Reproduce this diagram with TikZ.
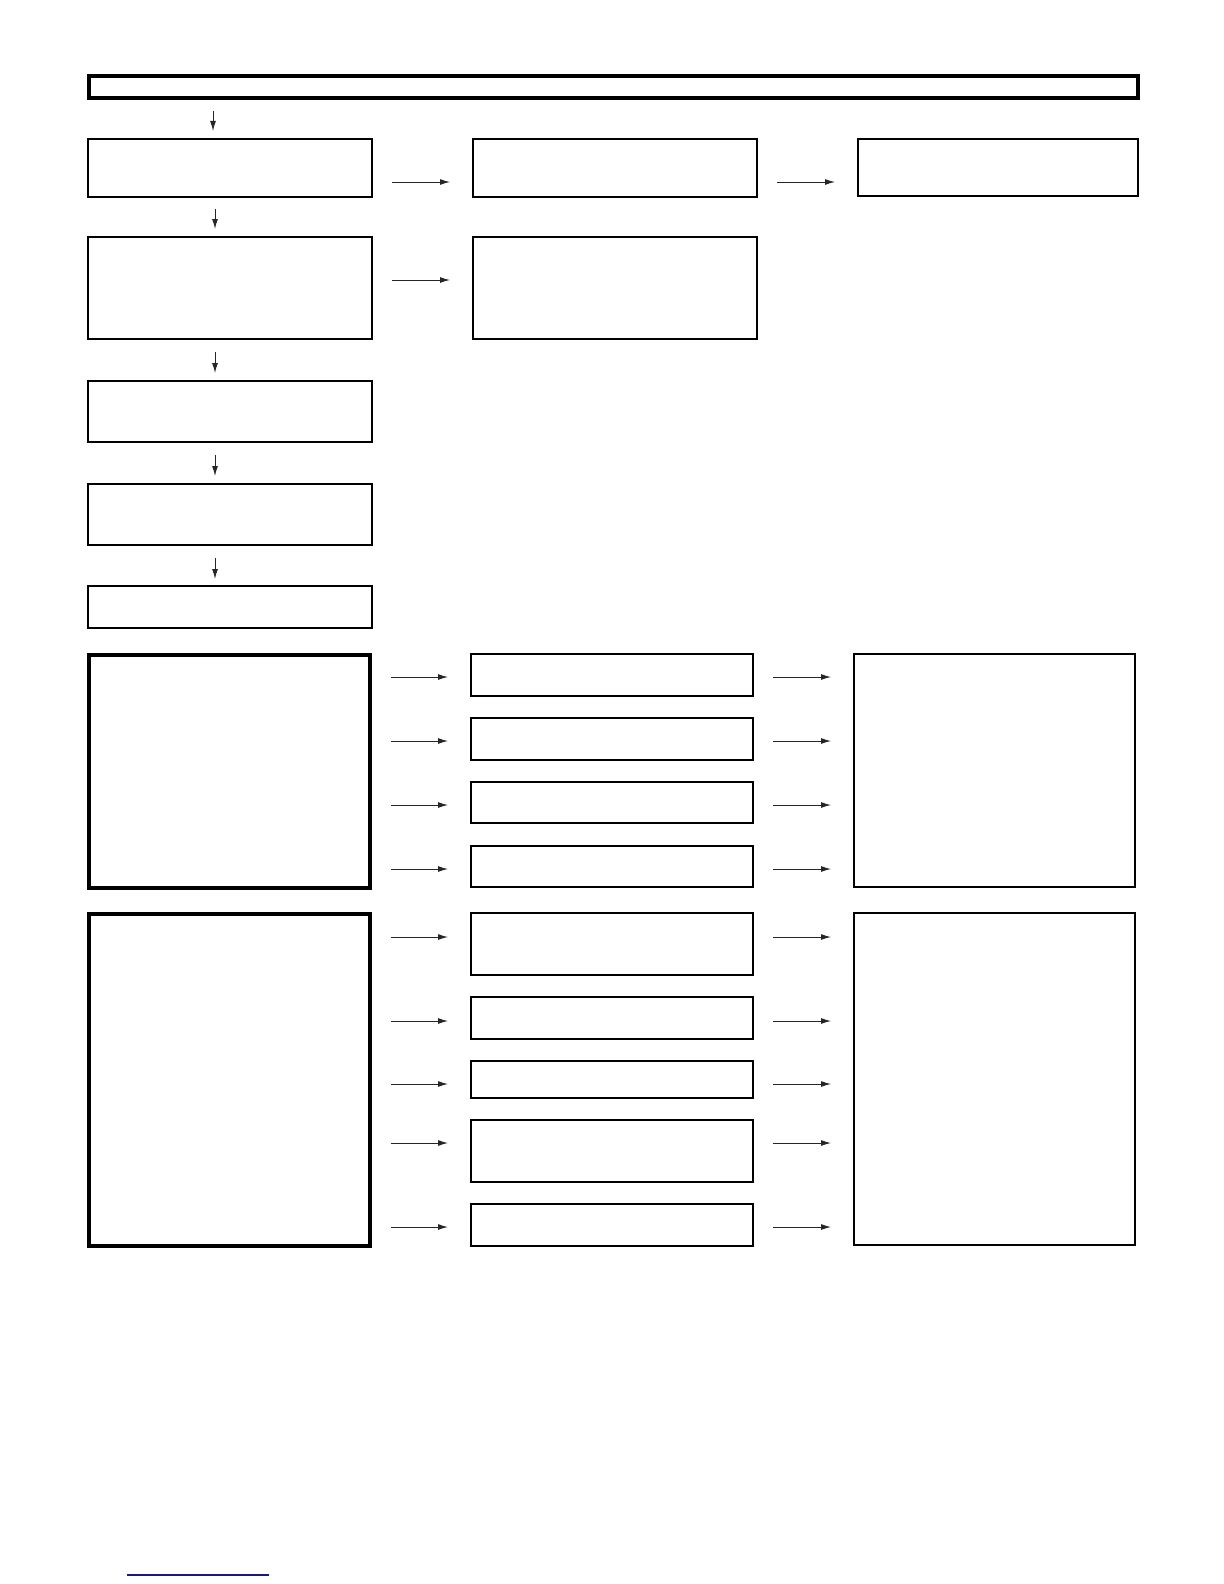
\documentclass[tikz,border=0pt]{standalone}
\usepackage{tikz}
\usetikzlibrary{arrows.meta}

\definecolor{linkblue}{RGB}{24,24,128}

\begin{document}
\begin{tikzpicture}[x=0.5pt, y=-0.5pt,
    box/.style={draw, line width=0.7pt, inner sep=0pt, minimum width=142pt},
    bigbox/.style={draw, line width=2pt, inner sep=0pt},
    arr/.style={draw=black!85, line width=0.5pt, -{Latex[length=5pt, width=3pt]}}]
  \useasboundingbox (0,0) rectangle (1224,1584);

  % banner
  \node [bigbox, minimum width=524.5pt, minimum height=11pt] (banner) at (613.5,87) {};

  % upper chain
  \node [box, minimum height=29pt] (a1) at (230,168) {};
  \node [box, minimum height=29pt] (b1) at (615,168) {};
  \node [box, minimum width=140pt, minimum height=28.5pt] (c1) at (998,167.5) {};
  \node [box, minimum height=51pt] (a2) at (230,288) {};
  \node [box, minimum height=51pt] (b2) at (615,288) {};
  \node [box, minimum height=30.5pt] (a3) at (230,411.5) {};
  \node [box, minimum height=30.5pt] (a4) at (230,514.5) {};
  \node [box, minimum height=21pt] (a5) at (230,607) {};

  % lower groups
  \node [bigbox, minimum width=140.5pt, minimum height=116.5pt] (l1) at (229.5,771.5) {};
  \node [box, minimum width=141pt, minimum height=21pt] (m1) at (612,675) {};
  \node [box, minimum width=141pt, minimum height=21pt] (m2) at (612,739) {};
  \node [box, minimum width=141pt, minimum height=20.5pt] (m3) at (612,802.5) {};
  \node [box, minimum width=141pt, minimum height=20.5pt] (m4) at (612,866.5) {};
  \node [box, minimum width=140.5pt, minimum height=116.5pt] (r1) at (994.5,770.5) {};

  \node [bigbox, minimum width=140.5pt, minimum height=166pt] (l2) at (229.5,1080) {};
  \node [box, minimum width=141pt, minimum height=31pt] (n1) at (612,944) {};
  \node [box, minimum width=141pt, minimum height=21pt] (n2) at (612,1018) {};
  \node [box, minimum width=141pt, minimum height=18.5pt] (n3) at (612,1079.5) {};
  \node [box, minimum width=141pt, minimum height=31pt] (n4) at (612,1151) {};
  \node [box, minimum width=141pt, minimum height=21pt] (n5) at (612,1225) {};
  \node [box, minimum width=140.5pt, minimum height=166pt] (r2) at (994.5,1079) {};

  % down arrows
  \foreach \x/\ya/\yb [count=\i] in {213/111/131, 215/209/229, 215/352/373, 215/455/476, 215/558/579}
  {
    \coordinate (dn\i s) at (\x,\ya);
    \coordinate (dn\i e) at (\x,\yb);
    \draw [arr] (dn\i s) -- (dn\i e);
  }

  % right arrows, upper part
  \foreach \xa/\xb/\y [count=\i] in {392/450/182, 777/835/182, 392/450/280}
  {
    \coordinate (up\i s) at (\xa,\y);
    \coordinate (up\i e) at (\xb,\y);
    \draw [arr] (up\i s) -- (up\i e);
  }

  % right arrows, lower part
  \foreach \y [count=\i] in {677, 741, 805, 869, 937, 1021, 1084, 1143, 1227}
  {
    \coordinate (lo\i a) at (391,\y);
    \coordinate (lo\i b) at (448,\y);
    \coordinate (lo\i c) at (773,\y);
    \coordinate (lo\i d) at (831,\y);
    \draw [arr] (lo\i a) -- (lo\i b);
    \draw [arr] (lo\i c) -- (lo\i d);
  }

  % link rule
  \draw [linkblue, line width=1pt] (127,1575) -- (269,1575);
\end{tikzpicture}
\end{document}
